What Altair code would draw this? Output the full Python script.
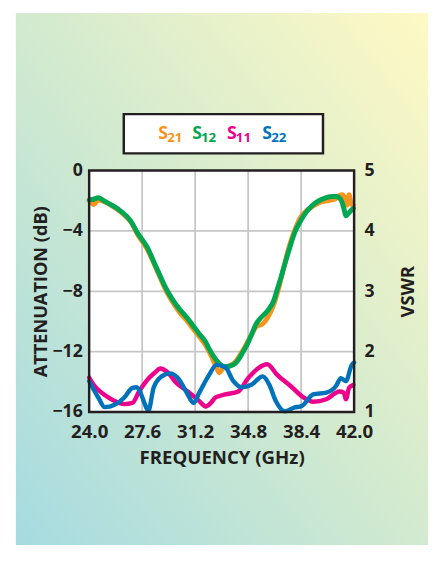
import altair as alt
import pandas as pd

# ---------------- data ----------------
series_names = ["S21", "S12", "S11", "S22"]
series_colors = ["#f7941d", "#00a651", "#ec008c", "#0072bc"]

x_ticks = [24.0, 27.6, 31.2, 34.8, 38.4, 42.0]
att_ticks = [-16, -12, -8, -4, 0]
vswr_ticks = [1, 2, 3, 4, 5]

freq_s21 = [24.0, 24.15, 24.3, 24.62, 25.0, 25.5, 26.16, 26.5, 26.83, 27.27, 27.94, 28.6,
            29.27, 29.7, 30.15, 30.6, 31.04, 31.48, 31.92, 32.3, 32.6, 32.85, 33.1, 33.5,
            33.91, 34.46, 35.02, 35.35, 35.8, 36.12, 36.57, 36.9, 37.23, 37.6, 38.01, 38.3,
            38.56, 39.22, 39.7, 40.11, 40.5, 40.77, 41.0, 41.2, 41.35, 41.5, 41.66, 41.8, 41.95]
att_s21 = [-2.0, -2.1, -2.25, -1.95, -2.05, -2.3, -2.75, -3.05, -3.4, -4.2, -5.2, -6.6,
           -8.05, -8.75, -9.4, -9.9, -10.45, -11.0, -11.6, -12.3, -12.95, -13.4, -13.1, -12.95,
           -12.7, -11.9, -10.9, -10.35, -10.15, -9.75, -8.8, -7.7, -6.4, -5.0, -3.85, -3.2,
           -2.85, -2.35, -2.1, -2.0, -1.95, -1.85, -1.65, -1.6, -1.8, -2.3, -1.6, -2.2, -2.3]

freq_s12 = [24.0, 24.3, 24.62, 25.0, 25.5, 26.16, 26.83, 27.27, 27.94, 28.6, 29.27, 29.7,
            30.15, 30.6, 31.04, 31.48, 31.92, 32.14, 32.59, 32.9, 33.25, 33.6, 33.91, 34.2,
            34.46, 34.75, 35.02, 35.35, 35.68, 36.12, 36.57, 36.77, 37.01, 37.23, 37.6, 38.01,
            38.3, 38.56, 39.22, 39.7, 40.11, 40.5, 40.77, 41.1, 41.3, 41.44, 41.6, 41.84, 41.95]
att_s12 = [-1.94, -1.9, -1.8, -2.0, -2.27, -2.7, -3.35, -4.1, -5.08, -6.5, -7.9, -8.6,
           -9.2, -9.7, -10.25, -10.83, -11.37, -11.8, -12.5, -12.85, -13.0, -12.95, -12.8, -12.45,
           -12.0, -11.5, -10.9, -10.15, -9.74, -9.3, -8.55, -7.9, -7.15, -6.4, -5.2, -4.0,
           -3.45, -3.0, -2.26, -1.95, -1.79, -1.72, -1.72, -1.92, -2.5, -3.0, -2.85, -2.6, -2.5]

freq_s11 = [24.0, 24.3, 24.84, 25.3, 25.73, 26.39, 26.94, 27.39, 28.05, 28.5, 28.82, 29.27,
            29.93, 30.81, 31.48, 31.92, 32.3, 32.59, 33.25, 34.13, 34.8, 35.46, 36.09, 36.79,
            37.68, 38.56, 39.22, 40.11, 41.0, 41.3, 41.44, 41.66, 41.95]
vswr_s11 = [1.57, 1.45, 1.32, 1.24, 1.18, 1.13, 1.15, 1.34, 1.56, 1.66, 1.72, 1.67,
            1.48, 1.32, 1.18, 1.09, 1.16, 1.24, 1.29, 1.34, 1.56, 1.72, 1.79, 1.61,
            1.43, 1.24, 1.17, 1.21, 1.34, 1.32, 1.21, 1.40, 1.45]

freq_s22 = [24.0, 24.62, 25.06, 25.73, 26.39, 26.94, 27.2, 27.45, 27.75, 28.02, 28.38, 28.93,
            29.48, 30.04, 30.59, 31.1, 31.48, 32.14, 32.65, 33.25, 33.8, 34.36, 35.02, 35.79,
            36.24, 36.68, 37.3, 37.9, 38.45, 39.22, 40.11, 40.77, 41.1, 41.44, 41.84, 42.0]
vswr_s22 = [1.51, 1.24, 1.08, 1.12, 1.24, 1.40, 1.41, 1.34, 1.15, 1.02, 1.40, 1.59,
            1.64, 1.56, 1.34, 1.15, 1.32, 1.61, 1.78, 1.74, 1.51, 1.41, 1.45, 1.59,
            1.45, 1.18, 1.01, 1.07, 1.10, 1.29, 1.32, 1.43, 1.56, 1.51, 1.78, 1.82]

# ---------------- layout / style ----------------
FONT = "Open Sans"
INK = "#231f20"
W, H = 270, 246
TOTAL_H = 542
PAD = {"left": 82.7, "top": 160.5, "right": 75.3, "bottom": TOTAL_H - 160.5 - H}
one = pd.DataFrame({"k": [0]})

x_scale = alt.Scale(domain=[24, 42], nice=False, zero=False)
x_axis = alt.Axis(values=x_ticks, format=".1f", title="FREQUENCY (GHz)",
                  labelFontSize=19, labelPadding=11, titleFontSize=19, titlePadding=8,
                  labelFlush=False, zindex=1)
att_scale = alt.Scale(domain=[-16, 0], nice=False, zero=False)
att_axis = alt.Axis(values=att_ticks, title="ATTENUATION (dB)", orient="left",
                    labelExpr="datum.value < 0 ? '\u2212' + abs(datum.value) : '' + datum.value",
                    labelFontSize=18, labelPadding=7, titleFontSize=18.5, titlePadding=2,
                    zindex=1)
vswr_scale = alt.Scale(domain=[1, 5], nice=False, zero=False)
vswr_axis = alt.Axis(values=vswr_ticks, format="d", title="VSWR", orient="right",
                     labelFontSize=18, labelPadding=10, titleFontSize=18.5, titlePadding=25,
                     titleAngle=270, titleBaseline="top", zindex=1)

X = lambda: alt.X("f:Q", scale=x_scale, axis=x_axis)

# background gradient and white plot area
bg = alt.Chart(one).mark_rect(
    fill=alt.Gradient(gradient="linear",
                      stops=[alt.GradientStop(color="#a6dbe1", offset=0),
                             alt.GradientStop(color="#d2eacf", offset=0.5),
                             alt.GradientStop(color="#fff9c4", offset=1)],
                      x1=0, y1=1, x2=1, y2=0)
).encode(x=alt.value(-74.7), x2=alt.value(345.3), y=alt.value(-160.5),
         y2=alt.value(TOTAL_H - 160.5))

plot_bg = alt.Chart(one).mark_rect(fill="white").encode(
    x=alt.value(0), x2=alt.value(W), y=alt.value(0), y2=alt.value(H))

# grid
grid_x = alt.Chart(pd.DataFrame({"f": x_ticks[1:-1]})).mark_rule(
    color="#c6c6c6", strokeWidth=1.8).encode(x=X())
grid_y = alt.Chart(pd.DataFrame({"a": att_ticks[1:-1]})).mark_rule(
    color="#c6c6c6", strokeWidth=1.8).encode(
    y=alt.Y("a:Q", scale=att_scale, axis=att_axis))


def line(freqs, vals, color, scale, axis, width):
    df = pd.DataFrame({"f": freqs, "v": vals})
    return alt.Chart(df).mark_line(color=color, strokeWidth=width, interpolate="monotone",
                                   strokeCap="round", strokeJoin="round").encode(
        x=X(), y=alt.Y("v:Q", scale=scale, axis=axis))


s21 = line(freq_s21, att_s21, series_colors[0], att_scale, att_axis, 5)
s12 = line(freq_s12, att_s12, series_colors[1], att_scale, att_axis, 5)
s11 = line(freq_s11, vswr_s11, series_colors[2], vswr_scale, vswr_axis, 4.5)
s22 = line(freq_s22, vswr_s22, series_colors[3], vswr_scale, vswr_axis, 4.5)

att_layer = alt.layer(grid_x, grid_y, s21, s12)
vswr_layer = alt.layer(s11, s22)
curves = alt.layer(att_layer, vswr_layer).resolve_scale(y="independent")

border = alt.Chart(one).mark_rect(fillOpacity=0, stroke=INK, strokeWidth=2.5).encode(
    x=alt.value(0), x2=alt.value(W), y=alt.value(0), y2=alt.value(H))

# legend box with subscripted labels
legend_box = alt.Chart(one).mark_rect(fill="white", stroke=INK, strokeWidth=2.5).encode(
    x=alt.value(35.3), x2=alt.value(238.3), y=alt.value(-57.5), y2=alt.value(-17.5))

legend_x = [70.5, 105.0, 140.5, 176.5]
legend_layers = []
for name, color, lx in zip(series_names, series_colors, legend_x):
    legend_layers.append(alt.Chart(one).mark_text(
        text="S", font=FONT, fontWeight="bold", fontSize=18, color=color,
        align="left", baseline="alphabetic").encode(x=alt.value(lx), y=alt.value(-32.5)))
    legend_layers.append(alt.Chart(one).mark_text(
        text=name[1:], font=FONT, fontWeight="bold", fontSize=13.5, color=color,
        align="left", baseline="alphabetic").encode(x=alt.value(lx + 9), y=alt.value(-29.5)))

chart = alt.layer(bg, plot_bg, curves, border, legend_box, *legend_layers).properties(
    width=W, height=H, padding=PAD, autosize=alt.AutoSizeParams(type="none"),
    background="white"
).configure_view(stroke=None).configure_axis(
    grid=False, ticks=False, domain=False,
    labelFont=FONT, labelFontWeight="bold", labelColor=INK,
    titleFont=FONT, titleFontWeight="bold", titleColor=INK)

chart.save("out.html", embed_options={"renderer": "svg", "actions": False})
